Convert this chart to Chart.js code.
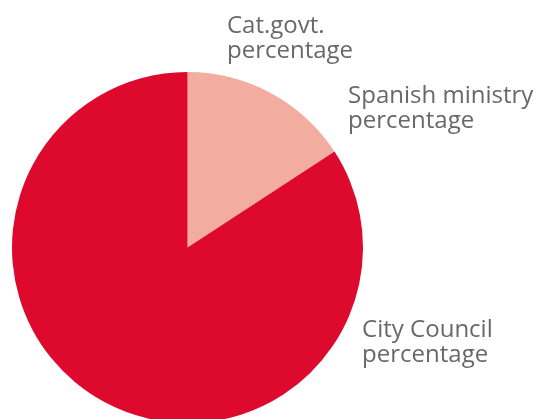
<!DOCTYPE html>
<html>
<head>
<meta charset="utf-8">
<script src="https://cdn.jsdelivr.net/npm/chart.js@4/dist/chart.umd.min.js"></script>
<style>
  html, body { margin: 0; padding: 0; background: #ffffff; overflow: hidden; }
  #wrap { position: relative; width: 537px; height: 440px; }
</style>
</head>
<body>
<div id="wrap"><canvas id="pie" width="537" height="440"></canvas></div>
<script>
// Funding shares, in percent
const categories = ['Cat.govt. percentage', 'Spanish ministry percentage', 'City Council percentage'];
const shares = [0, 15.8, 84.2];
const sliceColors = ['#f7c3b8', '#f2ada0', '#dd0a2d'];

// Outside labels: two text lines each, placed relative to the pie's centre and radius
const labelLines = [['Cat.govt.', 'percentage'], ['Spanish ministry', 'percentage'], ['City Council', 'percentage']];
const labelOffsets = [[0.225, -1.222], [0.915, -0.823], [0.995, 0.51]];

const outsideLabels = {
  id: 'outsideLabels',
  afterDraw(chart) {
    const arc = chart.getDatasetMeta(0).data[0];
    if (!arc) return;
    const { x, y, outerRadius } = arc.getProps(['x', 'y', 'outerRadius'], true);
    const ctx = chart.ctx;
    ctx.save();
    ctx.font = '24px "Open Sans", "Noto Sans", sans-serif';
    ctx.fillStyle = '#686868';
    ctx.textAlign = 'left';
    ctx.textBaseline = 'alphabetic';
    labelLines.forEach((lines, i) => {
      const lx = x + labelOffsets[i][0] * outerRadius;
      const ly = y + labelOffsets[i][1] * outerRadius;
      lines.forEach((t, j) => ctx.fillText(t, lx, ly + j * 25));
    });
    ctx.restore();
  }
};

new Chart(document.getElementById('pie'), {
  type: 'pie',
  data: {
    labels: categories,
    datasets: [{
      data: shares,
      backgroundColor: sliceColors,
      borderWidth: 0
    }]
  },
  options: {
    responsive: false,
    animation: false,
    layout: { padding: { left: 12, right: 174, top: 72, bottom: 17 } },
    plugins: {
      legend: { display: false },
      tooltip: { enabled: false }
    }
  },
  plugins: [outsideLabels]
});
</script>
</body>
</html>
